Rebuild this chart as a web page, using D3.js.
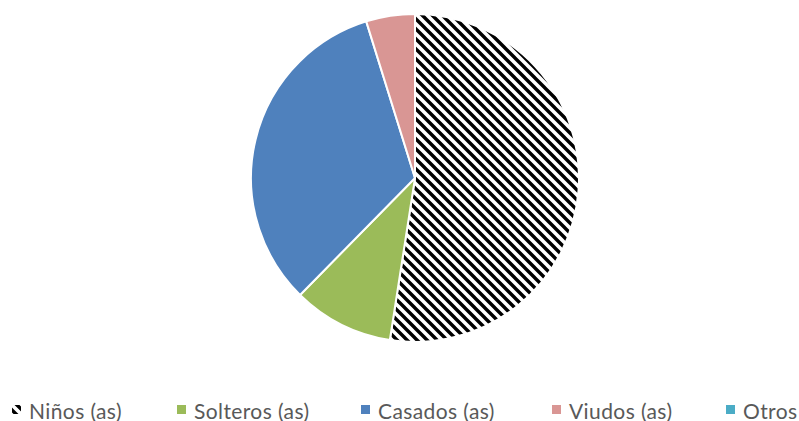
<!DOCTYPE html>
<html>
<head>
<meta charset="utf-8">
<script src="https://cdn.jsdelivr.net/npm/d3@7"></script>
<style>
  body { margin: 0; background: #fff; }
  svg { display: block; }
</style>
</head>
<body>
<svg id="chart"></svg>
<script>
const width = 799;
const height = 421;

// data (percent)
const categories = ['Niños (as)', 'Solteros (as)', 'Casados (as)', 'Viudos (as)', 'Otros'];
const values = [52.4, 9.9, 32.8, 4.8, 0];
const colors = ['url(#hatch)', '#9bbb59', '#4f81bd', '#d99694', '#4bacc6'];

const svg = d3.select('#chart')
    .attr('width', width)
    .attr('height', height);

// diagonal stripe fill for the first slice
const defs = svg.append('defs');
const pat = defs.append('pattern')
    .attr('id', 'hatch')
    .attr('patternUnits', 'userSpaceOnUse')
    .attr('width', 10)
    .attr('height', 10);
pat.append('rect').attr('width', 10).attr('height', 10).attr('fill', '#fff');
pat.append('path')
    .attr('d', 'M-5,-5 L15,15 M-5,5 L5,15 M5,-5 L15,5')
    .attr('stroke', '#000')
    .attr('stroke-width', 3.4);

const cx = 415, cy = 178, r = 164;

const pie = d3.pie().sort(null).value(d => d.value);
const arc = d3.arc().innerRadius(0).outerRadius(r);

const data = categories.map((c, i) => ({ name: c, value: values[i], color: colors[i] }));

const g = svg.append('g')
    .attr('transform', `translate(${cx},${cy})`);

g.selectAll('path.slice')
    .data(pie(data).filter(d => d.data.value > 0))
    .enter()
    .append('path')
    .attr('class', 'slice')
    .attr('d', arc)
    .attr('fill', d => d.data.color)
    .attr('stroke', '#fff')
    .attr('stroke-width', 2)
    .attr('stroke-linejoin', 'round');

// legend
const legendX = [12, 177, 361, 552, 726];
const legend = svg.append('g').attr('class', 'legend');

const items = legend.selectAll('g.item')
    .data(data)
    .enter()
    .append('g')
    .attr('class', 'item')
    .attr('transform', (d, i) => `translate(${legendX[i]},410)`);

items.append('rect')
    .attr('x', 0)
    .attr('y', -5)
    .attr('width', 9)
    .attr('height', 9)
    .attr('fill', d => d.color);

items.append('text')
    .attr('x', 17)
    .attr('y', 0)
    .attr('dominant-baseline', 'central')
    .attr('font-family', 'Lato, "Open Sans", sans-serif')
    .attr('font-size', '21px')
    .attr('letter-spacing', '0.4px')
    .attr('fill', '#595959')
    .text(d => d.name);
</script>
</body>
</html>
